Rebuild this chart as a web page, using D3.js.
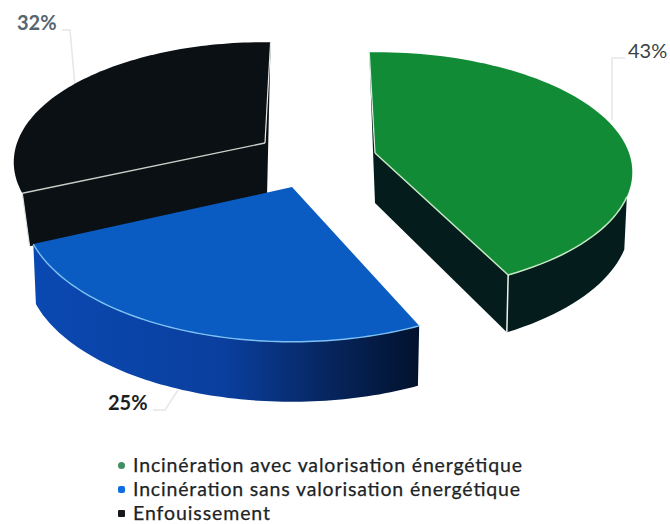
<!DOCTYPE html>
<html><head><meta charset="utf-8">
<script src="https://cdn.jsdelivr.net/npm/d3@7"></script>
<style>html,body{margin:0;padding:0;background:#fff;overflow:hidden}svg{display:block}</style>
</head><body><svg id="c" width="670" height="524"></svg>
<script>
const categories = ["Incinération avec valorisation énergétique","Incinération sans valorisation énergétique","Enfouissement"];
const values = [43,25,32];
const valueLabels = ["43%","25%","32%"];
const topColors = ["#118b36","#0b5cc2","#0b1014"];
const legendColors = ["#3f8f62","#0f6fe2","#15181c"];

const svg = d3.select("#c");
const layout = [
  {cx:375,cy:153,a:254,b:117,rot:.5,depth:50,bsx:.99,bsy:1.06,wall:"#041c1c",edge:"#c4e8c4"},
  {cx:292,cy:187,a:265,b:130,rot:3,depth:60,bsx:.99,bsy:1,wall:"url(#blueWall)",edge:"#7cc0f4"},
  {cx:265,cy:143,a:248,b:117,rot:3.5,depth:53,bsx:.97,bsy:1,wall:"#0b1014",edge:"#0b1014"}
];
const rad = Math.PI/180, k = .16, N = 80;
const defs = svg.append("defs");
const g = defs.append("linearGradient").attr("id","blueWall").attr("gradientUnits","userSpaceOnUse")
  .attr("x1",32).attr("x2",417).attr("y1",0).attr("y2",0);
[[0,"#0a49b2"],[.5,"#0a3f9e"],[.72,"#072a6a"],[.9,"#041a42"],[1,"#03132f"]]
  .forEach(s=>g.append("stop").attr("offset",s[0]).attr("stop-color",s[1]));

const pie = d3.pie().sort(null).startAngle(-2*rad).endAngle(358*rad);
const arcs = pie(values);
const line = d3.line();

function project(L,t,low){
  const u=Math.sin(t), v=-Math.cos(t), w=1-k*v;
  return [L.cx+L.a*u/w*(low?L.bsx:1), L.cy+L.b*v/w*(low?L.bsy:1)+(low?L.depth:0)];
}
function rim(L,a0,a1,low){
  return d3.range(N+1).map(i=>project(L,a0+(a1-a0)*i/N,low));
}
function drawSlice(i){
  const L=layout[i], d=arcs[i];
  const a0=d.startAngle+L.rot*rad, a1=d.endAngle+L.rot*rad;
  const gg=svg.append("g");
  const top=rim(L,a0,a1,false), low=rim(L,a0,a1,true);
  const pivot=[L.cx,L.cy], pivotLow=[L.cx,L.cy+L.depth];
  const idx=top.findIndex(p=>p[1]>=L.cy+42);
  const fill=gg.append("g");
  if(i===0){
    fill.append("path").attr("d",line([pivot,top[N],low[N],pivotLow])+"Z").attr("fill",L.wall);
    fill.append("path").attr("d",line(top.slice(idx).concat(low.slice(idx).reverse()))+"Z").attr("fill",L.wall);
    fill.append("path").attr("d",line([top[0],pivot,pivotLow])+"Z").attr("fill",L.wall);
  }
  if(i===1){
    fill.append("path").attr("d",line(top.concat(low.slice().reverse()))+"Z").attr("fill",L.wall);
  }
  if(i===2){
    fill.append("path").attr("d",line([pivot,top[0],low[0],pivotLow])+"Z").attr("fill",L.wall);
    fill.append("path").attr("d",line([top[N],pivot,pivotLow,[pivot[0]+2,pivotLow[1]]])+"Z").attr("fill",L.wall);
  }
  gg.append("path").attr("d",line([pivot].concat(top))+"Z").attr("fill",topColors[i]);
  return {gg,top,low,pivot,pivotLow,idx};
}

const leaders=[[[612,120],[612,58],[625,58]],[[178,390],[165,410],[153,410]],[[75,86],[70,30],[62,30]]];
leaders.forEach(p=>svg.append("path").attr("d",line(p)).attr("fill","none").attr("stroke","#e6e6e6").attr("stroke-width",1.5));

const S2=drawSlice(2);
S2.gg.append("path").attr("d",line([S2.top[0],S2.pivot])).attr("stroke","#c8cfc8").attr("stroke-width",1.3).attr("fill","none");
S2.gg.append("path").attr("d",line([S2.top[0],S2.low[0]])).attr("stroke","#dfe3e0").attr("stroke-width",1.2).attr("fill","none");
S2.gg.append("path").attr("d",line([S2.top[N],S2.pivot])).attr("stroke","#e8e8e8").attr("stroke-width",1.2).attr("fill","none");

const S0=drawSlice(0);
S0.gg.append("path").attr("d",line(S0.top.slice(S0.idx))).attr("stroke",layout[0].edge).attr("stroke-width",1.5).attr("fill","none");
S0.gg.append("path").attr("d",line([S0.pivot,S0.top[N]])).attr("stroke",layout[0].edge).attr("stroke-width",1.5).attr("fill","none");
S0.gg.append("path").attr("d",line([S0.top[0],S0.pivot])).attr("stroke","#d8efe0").attr("stroke-width",1.2).attr("fill","none");
S0.gg.append("path").attr("d",line([S0.top[N],S0.low[N]])).attr("stroke","#eef2ee").attr("stroke-width",1.5).attr("fill","none");

const S1=drawSlice(1);
S1.gg.append("path").attr("d",line(S1.top)).attr("stroke",layout[1].edge).attr("stroke-width",1.4).attr("fill","none");

const labelPos=[[628,58,"#3a3f42",400],[108,410,"#1c1e20",700],[17,30,"#56666f",700]];
valueLabels.forEach((t,i)=>svg.append("text").text(t).attr("x",labelPos[i][0]).attr("y",labelPos[i][1])
  .attr("fill",labelPos[i][2]).attr("font-weight",labelPos[i][3])
  .attr("font-family","Lato, 'Open Sans', sans-serif").attr("font-size",20));

const ly=d3.scalePoint().domain(categories).range([472,520]);
const legendWidths=[389,387,137];
const leg=svg.append("g");
categories.forEach((c,i)=>{
  const y=ly(c);
  leg.append("text").text(c).attr("x",133).attr("y",y).attr("fill","#202325")
    .attr("stroke","#202325").attr("stroke-width",.25)
    .attr("font-family","Lato, sans-serif").attr("font-size",19.5).attr("textLength",legendWidths[i]);
  leg.append("rect").attr("x",118).attr("y",y-10).attr("width",7).attr("height",7)
    .attr("rx",i===0?3.5:(i===1?2:1)).attr("fill",legendColors[i]);
});
</script></body></html>
